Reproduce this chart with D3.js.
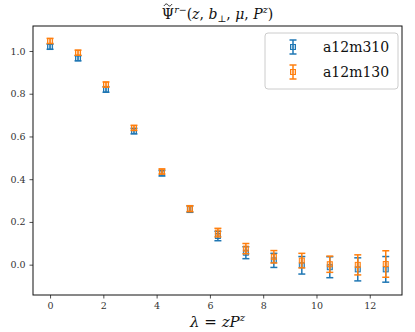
<!DOCTYPE html>
<html>
<head>
<meta charset="utf-8">
<script src="https://cdn.jsdelivr.net/npm/d3@7"></script>
<style>
  body { margin: 0; background: #fff; }
</style>
</head>
<body>
<svg id="chart"></svg>
<script>
// lambda values shared by both ensembles
var lambdas = [0, 1.05, 2.1, 3.15, 4.2, 5.25, 6.3, 7.35, 8.4, 9.45, 10.5, 11.55, 12.6];

var a12m310 = [1.02, 0.966, 0.82, 0.625, 0.428, 0.26, 0.134, 0.056, 0.02, -0.003, -0.012, -0.022, -0.022];
var a12m310Err = [0.012, 0.012, 0.013, 0.013, 0.013, 0.015, 0.022, 0.028, 0.033, 0.041, 0.049, 0.054, 0.06];

var a12m130 = [1.047, 0.992, 0.843, 0.64, 0.436, 0.262, 0.15, 0.075, 0.037, 0.019, 0.002, -0.001, 0.003];
var a12m130Err = [0.012, 0.012, 0.012, 0.012, 0.012, 0.014, 0.02, 0.024, 0.029, 0.034, 0.038, 0.047, 0.062];

var xTicks = [0, 2, 4, 6, 8, 10, 12];
var yTicks = [0.0, 0.2, 0.4, 0.6, 0.8, 1.0];

var series = [
  { name: "a12m310", vals: a12m310, errs: a12m310Err, color: "#1f77b4" },
  { name: "a12m130", vals: a12m130, errs: a12m130Err, color: "#ff7f0e" },
];

var FONT = "'DejaVu Serif', 'Liberation Serif', serif";

var outerWidth = 415;
var outerHeight = 332;
var margin = { top: 26, left: 33, right: 13, bottom: 37 };
var width = outerWidth - margin.left - margin.right;
var height = outerHeight - margin.top - margin.bottom;

var svg = d3.select("#chart").attr("width", outerWidth).attr("height", outerHeight);
var cg = svg.append("g").attr("transform", "translate(" + margin.left + "," + margin.top + ")");

var x = d3.scaleLinear().domain([-0.64, 13.21]).range([0, width]);
var y = d3.scaleLinear().domain([-0.142, 1.117]).range([height, 0]);

// axes
var xAxis = d3.axisBottom(x).tickValues(xTicks).tickFormat(d3.format("d")).tickSizeOuter(0).tickSize(3.5).tickPadding(4);
var gx = cg.append("g").attr("transform", "translate(0," + height + ")").call(xAxis);
var yAxis = d3.axisLeft(y).tickValues(yTicks).tickFormat(d3.format(".1f")).tickSizeOuter(0).tickSize(3.5).tickPadding(4);
var gy = cg.append("g").call(yAxis);
gx.select(".domain").remove();
gy.select(".domain").remove();
[gx, gy].forEach((g) => {
  g.attr("font-family", FONT);
  g.selectAll("text").style("font-family", FONT).style("font-size", "9.5px").attr("fill", "#333");
  g.selectAll("line").attr("stroke", "#222").attr("stroke-width", 0.8);
});

// frame
cg.append("rect")
  .attr("width", width)
  .attr("height", height)
  .attr("fill", "none")
  .attr("stroke", "#111")
  .attr("stroke-width", 1);

// error bars + markers
var cap = 3.5;
var ms = 5;
series.forEach((s) => {
  var g = cg.append("g");
  s.vals.forEach((v, i) => {
    var px = x(lambdas[i]);
    var y0 = y(v - s.errs[i]);
    var y1 = y(v + s.errs[i]);
    g.append("line").attr("x1", px).attr("x2", px).attr("y1", y0).attr("y2", y1)
      .attr("stroke", s.color).attr("stroke-width", 1.5);
    [y0, y1].forEach((yy) => {
      g.append("line").attr("x1", px - cap).attr("x2", px + cap).attr("y1", yy).attr("y2", yy)
        .attr("stroke", s.color).attr("stroke-width", 1.5);
    });
    g.append("rect")
      .attr("x", px - ms / 2).attr("y", y(v) - ms / 2)
      .attr("width", ms).attr("height", ms)
      .attr("fill", s.color).attr("fill-opacity", 0.3)
      .attr("stroke", s.color).attr("stroke-width", 1);
  });
});

// title
var title = svg.append("text")
  .attr("x", margin.left + width / 2)
  .attr("y", 19)
  .attr("text-anchor", "middle")
  .style("font-family", FONT)
  .style("font-size", "14px")
  .attr("fill", "#111");
title.append("tspan").text("\u03A8");
title.append("tspan").style("font-style", "italic").style("font-size", "9.5px").attr("dy", -6).text("r\u2212");
title.append("tspan").attr("dy", 6).text("(");
title.append("tspan").style("font-style", "italic").text("z");
title.append("tspan").text(", ");
title.append("tspan").style("font-style", "italic").text("b");
title.append("tspan").style("font-size", "9.5px").attr("dy", 3).text("\u22A5");
title.append("tspan").attr("dy", -3).text(", ");
title.append("tspan").style("font-style", "italic").text("\u03BC");
title.append("tspan").text(", ");
title.append("tspan").style("font-style", "italic").text("P");
title.append("tspan").style("font-style", "italic").style("font-size", "9.5px").attr("dy", -6).text("z");
title.append("tspan").attr("dy", 6).text(")");
// tilde over Psi, drawn as a small curve
var psiX0 = title.node().getStartPositionOfChar(0).x;
var psiX1 = title.node().getEndPositionOfChar(0).x;
var tc = (psiX0 + psiX1) / 2;
svg.append("path")
  .attr("d", `M${tc - 4},6 C${tc - 2.5},3.5 ${tc - 1},3.5 ${tc},5 S${tc + 2.5},6.5 ${tc + 4},4`)
  .attr("fill", "none")
  .attr("stroke", "#111")
  .attr("stroke-width", 0.9);

// x label
var xl = svg.append("text")
  .attr("x", margin.left + width / 2)
  .attr("y", 327)
  .attr("text-anchor", "middle")
  .style("font-family", FONT)
  .style("font-size", "15px")
  .attr("fill", "#111");
xl.append("tspan").style("font-style", "italic").text("\u03BB");
xl.append("tspan").text(" = ");
xl.append("tspan").style("font-style", "italic").text("zP");
xl.append("tspan").style("font-style", "italic").style("font-size", "10px").attr("dy", -6).text("z");

// legend
var lg = svg.append("g").attr("transform", "translate(265,33)");
lg.append("rect")
  .attr("width", 133).attr("height", 56).attr("rx", 3)
  .attr("fill", "#fff").attr("fill-opacity", 0.8)
  .attr("stroke", "#ccc").attr("stroke-width", 1);
series.forEach((s, i) => {
  var cy = 14 + i * 25;
  var cx = 28;
  var e = lg.append("g");
  e.append("line").attr("x1", cx).attr("x2", cx).attr("y1", cy - 7).attr("y2", cy + 7)
    .attr("stroke", s.color).attr("stroke-width", 1.5);
  [cy - 7, cy + 7].forEach((yy) => {
    e.append("line").attr("x1", cx - cap).attr("x2", cx + cap).attr("y1", yy).attr("y2", yy)
      .attr("stroke", s.color).attr("stroke-width", 1.5);
  });
  e.append("rect").attr("x", cx - ms / 2).attr("y", cy - ms / 2).attr("width", ms).attr("height", ms)
    .attr("fill", s.color).attr("fill-opacity", 0.3).attr("stroke", s.color);
  lg.append("text").attr("x", 58).attr("y", cy + 5)
    .style("font-family", FONT)
    .style("font-size", "14px").attr("fill", "#111").text(s.name);
});
</script>
</body>
</html>
